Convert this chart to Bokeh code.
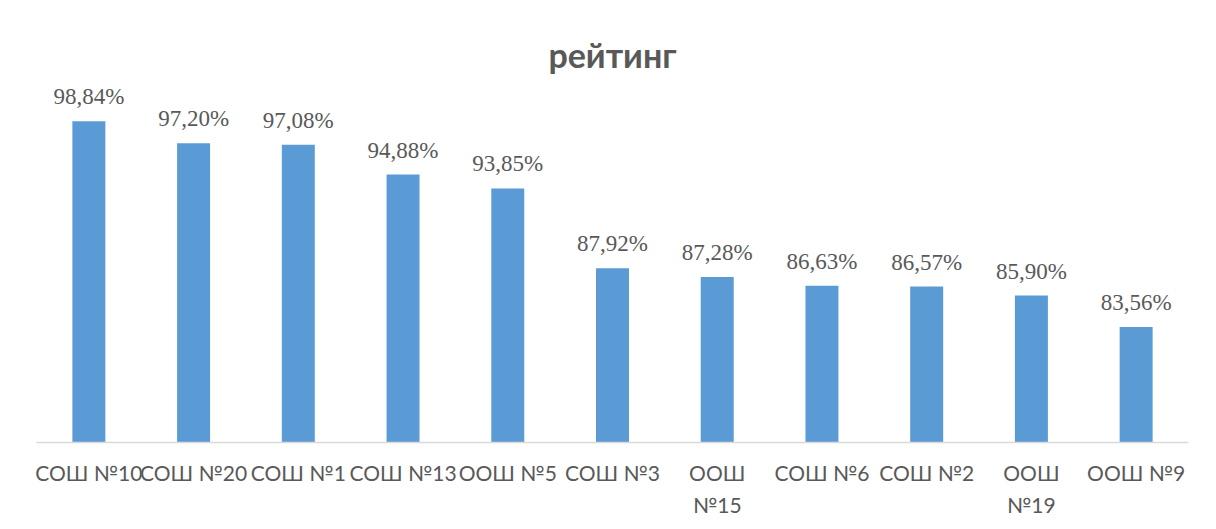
from bokeh.plotting import figure
from bokeh.models import ColumnDataSource, LabelSet, Label, Range1d, FactorRange
from bokeh.embed import file_html
from bokeh.resources import INLINE

categories = ["СОШ №10", "СОШ №20", "СОШ №1", "СОШ №13", "ООШ №5", "СОШ №3",
              "ООШ №15", "СОШ №6", "СОШ №2", "ООШ №19", "ООШ №9"]
values = [98.84, 97.20, 97.08, 94.88, 93.85, 87.92, 87.28, 86.63, 86.57, 85.90, 83.56]
wrapped = {"ООШ №15": "ООШ\n№15", "ООШ №19": "ООШ\n№19"}
title_text = "рейтинг"
y_min = 75

factors = [wrapped.get(c, c) for c in categories]
labels = [f"{v:.2f}".replace(".", ",") + "%" for v in values]
source = ColumnDataSource(dict(cat=factors, val=values, lab=labels))

FONT = "Lato"
GREY = "#595959"

PX_PER_UNIT = 13.48
TOP_BORDER = 5
BOTTOM_BORDER = 79
H = 521
frame_h = H - TOP_BORDER - BOTTOM_BORDER
y_top = y_min + frame_h / PX_PER_UNIT

p = figure(x_range=FactorRange(*factors), y_range=Range1d(y_min, y_top),
           width=1208, height=H, output_backend="svg", toolbar_location=None,
           min_border_left=36, min_border_right=20,
           min_border_top=TOP_BORDER, min_border_bottom=BOTTOM_BORDER)

p.vbar(x="cat", top="val", bottom=y_min, width=0.315, source=source,
       fill_color="#5B9BD5", line_color=None)

p.add_layout(LabelSet(x="cat", y="val", text="lab", source=source,
                      text_align="center", text_baseline="alphabetic", y_offset=17,
                      text_font=FONT, text_font_size="23px", text_color=GREY))

p.add_layout(Label(x=len(categories) / 2, y=103.8, text=title_text,
                   text_align="center", text_baseline="alphabetic",
                   text_font=FONT, text_font_size="34px", text_font_style="bold",
                   text_color=GREY))

p.outline_line_color = None
p.xgrid.grid_line_color = None
p.ygrid.grid_line_color = None
p.yaxis.visible = False

ax = p.xaxis[0]
ax.axis_line_color = "#D9D9D9"
ax.axis_line_width = 1.5
ax.major_tick_line_color = None
ax.minor_tick_line_color = None
ax.major_label_standoff = 11
ax.major_label_text_font = FONT
ax.major_label_text_font_size = "21px"
ax.major_label_text_color = GREY
ax.major_label_text_line_height = 1.3

open("out.html", "w").write(file_html(p, INLINE))
